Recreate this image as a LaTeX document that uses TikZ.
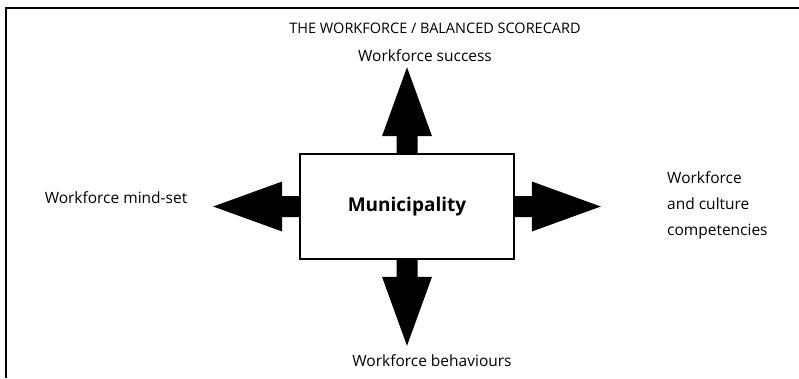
\documentclass[tikz,border=0pt]{standalone}
\usepackage{fontspec}
\setmainfont{Open Sans}
\usepackage{tikz}
\usetikzlibrary{positioning}

\tikzset{
  fatarrow/.pic={\fill[black] (0,-10.5) -- (17,-10.5) -- (17,-25) -- (86,0) -- (17,25) -- (17,10.5) -- (0,10.5) -- cycle;}
}

\begin{document}
\begin{tikzpicture}[x=1pt, y=-1pt,
  lbl/.style={font=\fontsize{15.5}{18}\selectfont, inner sep=0pt},
  core/.style={draw, line width=1.6pt, fill=white, minimum width=214pt, minimum height=105pt, font=\fontsize{19}{22}\selectfont\bfseries}]
\useasboundingbox (0,0) rectangle (799,378);
% frame (top and left edges only)
\draw[line width=1.4pt] (6,378) -- (6,8) -- (799,8);
% title
\node[lbl, font=\fontsize{14.5}{17}\selectfont] (title) at (435,28) {THE WORKFORCE / BALANCED SCORECARD};
% centre box and the four arrows
\node[core] (muni) at (407,206.5) {Municipality};
\pic[rotate=90] at (muni.north) {fatarrow};
\pic[rotate=-90] at (muni.south) {fatarrow};
\pic[rotate=180] at (muni.west) {fatarrow};
\pic at (muni.east) {fatarrow};
% labels
\node[lbl] (succ) at (425,56) {Workforce success};
\node[lbl] (mind) at (116,198) {Workforce mind-set};
\node[lbl, anchor=west, align=left, font=\fontsize{15.5}{26}\selectfont] (comp) at (667,205) {Workforce\\and culture\\competencies};
\node[lbl] (behav) at (432,361) {Workforce behaviours};
\end{tikzpicture}
\end{document}
